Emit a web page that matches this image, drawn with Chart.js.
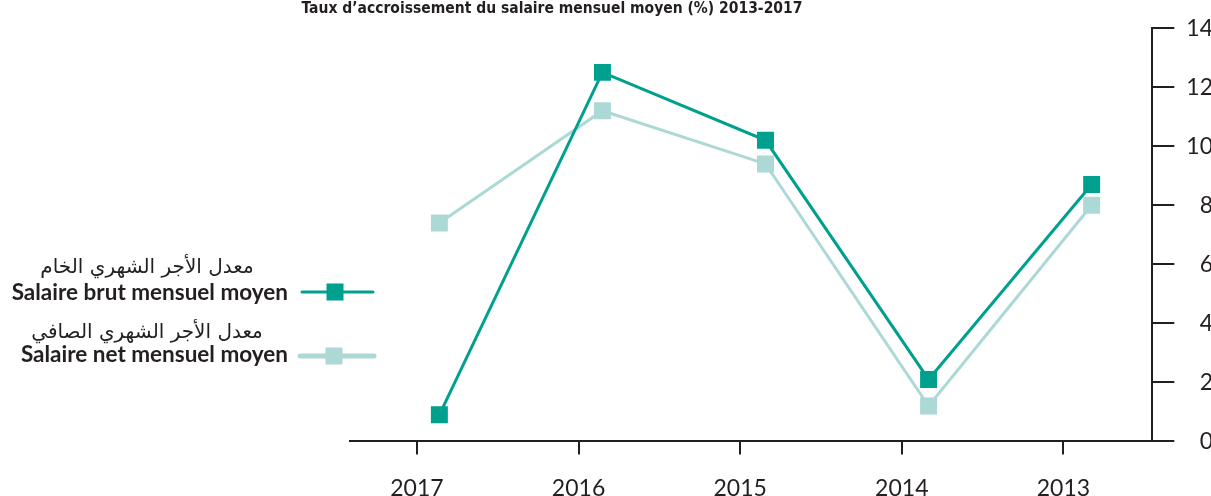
<!DOCTYPE html>
<html>
<head>
<meta charset="utf-8">
<script src="https://cdn.jsdelivr.net/npm/chart.js@4/dist/chart.umd.min.js"></script>
<style>
  html, body { margin: 0; padding: 0; background: #fff; overflow: hidden; }
  #wrap { position: relative; width: 1211px; height: 496px; overflow: hidden; }
  #chart { position: absolute; left: -109px; top: 0; }
</style>
</head>
<body>
<div id="wrap"><canvas id="chart" width="1322" height="522"></canvas></div>
<script>
// données
const years = ["2017", "2016", "2015", "2014", "2013"];
const brut = [0.9, 12.5, 10.2, 2.1, 8.7];
const net = [7.4, 11.2, 9.4, 1.2, 8.0];
const titleText = "Taux d\u2019accroissement du salaire mensuel moyen (%) 2013-2017";
const labelsFr = ["Salaire brut mensuel moyen", "Salaire net mensuel moyen"];
const labelsAr = ["معدل الأجر الشهري الخام", "معدل الأجر الشهري الصافي"];

const ink = "#231f20";
const teal = "#00a08f";
const light = "#acd8d6";
const OX = 109; // décalage du canvas

// légende dessinée à gauche (texte + trait + carré)
const sideLegend = {
  id: "sideLegend",
  afterDraw(chart) {
    const ctx = chart.ctx;
    const rows = [
      { arY: 268, frY: 293, lineY: 292, x1: 302, x2: 373, mx: 335, lw: 3 },
      { arY: 333, frY: 355, lineY: 356, x1: 300, x2: 374, mx: 334, lw: 5 },
    ];
    ctx.save();
    rows.forEach((r, i) => {
      const ds = chart.data.datasets[i];
      ctx.fillStyle = ink;
      ctx.textBaseline = "middle";
      ctx.font = "bold 22.5px Lato, sans-serif";
      ctx.textAlign = "right";
      ctx.fillText(labelsFr[i], OX + 288, r.frY);
      ctx.font = "20px 'DejaVu Sans', sans-serif";
      ctx.textAlign = "center";
      ctx.direction = "rtl";
      ctx.fillText(labelsAr[i], OX + 147, r.arY);
      ctx.direction = "ltr";
      ctx.strokeStyle = ds.borderColor;
      ctx.lineWidth = r.lw;
      ctx.lineCap = "round";
      ctx.beginPath();
      ctx.moveTo(OX + r.x1, r.lineY);
      ctx.lineTo(OX + r.x2, r.lineY);
      ctx.stroke();
      ctx.fillStyle = ds.backgroundColor;
      ctx.fillRect(OX + r.mx - 8.5, r.lineY - 8.5, 17, 17);
    });
    ctx.restore();
  },
};

const tickFont = { family: "Lato, sans-serif", size: 23 };

new Chart(document.getElementById("chart"), {
  type: "line",
  data: {
    datasets: [
      {
        label: labelsFr[0],
        data: brut.map((v, i) => ({ x: i, y: v })),
        xAxisID: "x2",
        yAxisID: "y",
        borderColor: teal,
        backgroundColor: teal,
        borderWidth: 3,
        pointStyle: "rect",
        pointRadius: 12,
        pointBorderWidth: 0,
        tension: 0,
      },
      {
        label: labelsFr[1],
        data: net.map((v, i) => ({ x: i, y: v })),
        xAxisID: "x2",
        yAxisID: "y",
        borderColor: light,
        backgroundColor: light,
        borderWidth: 3,
        pointStyle: "rect",
        pointRadius: 12,
        pointBorderWidth: 0,
        tension: 0,
      },
    ],
  },
  options: {
    responsive: false,
    animation: false,
    layout: { padding: 0 },
    plugins: {
      legend: { display: false },
      tooltip: { enabled: false },
      title: {
        display: true,
        text: titleText,
        color: ink,
        font: { family: "'Liberation Sans Narrow', 'DejaVu Sans Condensed', sans-serif", size: 15.5, weight: "bold" },
        padding: { top: 0, bottom: 9.5 },
      },
    },
    scales: {
      x: {
        type: "linear",
        position: "bottom",
        min: -0.414,
        max: 4.55,
        ticks: {
          stepSize: 1,
          includeBounds: false,
          autoSkip: false,
          maxRotation: 0,
          padding: 20,
          color: ink,
          font: tickFont,
          callback: (v) => years[v] ?? "",
        },
        grid: { drawOnChartArea: false, drawTicks: true, tickLength: 13, color: ink, lineWidth: 2 },
        border: { display: true, color: ink, width: 2 },
      },
      x2: { type: "linear", display: false, min: -0.548, max: 4.372 },
      y: {
        position: "right",
        min: 0,
        max: 14,
        ticks: { stepSize: 2, crossAlign: "far", padding: 6, color: ink, font: tickFont },
        grid: { drawOnChartArea: false, drawTicks: true, tickLength: 22, color: ink, lineWidth: 2 },
        border: { display: true, color: ink, width: 2 },
      },
      yl: {
        position: "left",
        display: true,
        ticks: { display: false },
        grid: { display: false },
        border: { display: false },
        afterFit: (s) => { s.width = OX + 350; },
      },
    },
  },
  plugins: [sideLegend],
});
</script>
</body>
</html>
